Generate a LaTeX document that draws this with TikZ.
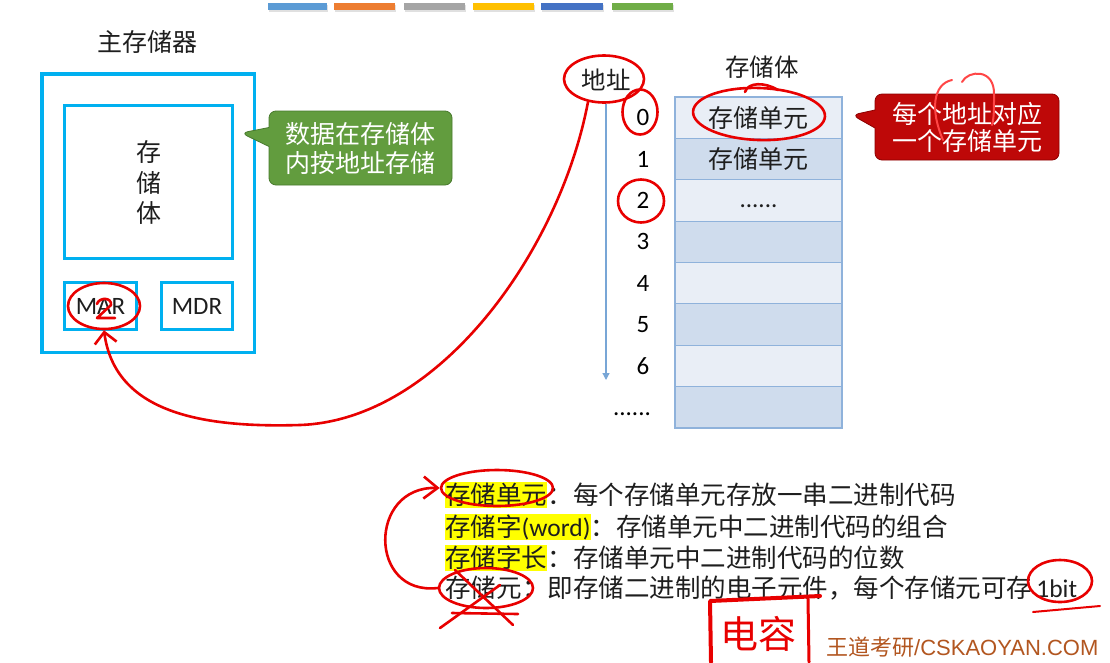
\documentclass[tikz,border=0pt]{standalone}
\usepackage{fontspec}
\setmainfont{Noto Sans CJK SC}
\newfontfamily\lat{Carlito}
\newfontfamily\wmfont{Liberation Sans}
\usetikzlibrary{shapes.geometric,shapes.callouts,arrows.meta,positioning}
\newcommand{\fsz}[1]{\fontsize{#1}{#1}\selectfont}
\definecolor{boxcyan}{RGB}{0,176,240}
\definecolor{txt}{RGB}{30,30,30}
\definecolor{calgreen}{RGB}{98,156,62}
\definecolor{calgreenline}{RGB}{72,122,45}
\definecolor{calred}{RGB}{190,8,8}
\definecolor{calredline}{RGB}{140,0,0}
\definecolor{cellA}{RGB}{233,238,246}
\definecolor{cellB}{RGB}{207,220,237}
\definecolor{cellline}{RGB}{143,178,219}
\definecolor{addrblue}{RGB}{120,166,214}
\definecolor{hlyellow}{RGB}{255,255,0}
\definecolor{inkred}{RGB}{232,0,0}
\definecolor{inkbright}{RGB}{255,70,70}
\definecolor{wmcolor}{RGB}{178,86,32}
\definecolor{barA}{RGB}{91,155,213}
\definecolor{barB}{RGB}{237,125,49}
\definecolor{barC}{RGB}{165,165,165}
\definecolor{barD}{RGB}{255,192,0}
\definecolor{barE}{RGB}{68,114,196}
\definecolor{barF}{RGB}{112,173,71}
\tikzset{
  cyanbox/.style={draw=boxcyan, line width=3.5pt, inner sep=0pt},
  lbl/.style={text=txt, inner sep=0pt, font=\fsz{25}},
  cell/.style={draw=cellline, line width=1.2pt, minimum width=167pt, minimum height=41.375pt, inner sep=0pt},
  num/.style={text=black, inner sep=0pt, font=\lat\fsz{25}},
  bubble/.style={rectangle callout, rounded corners=7pt, text=white, align=center, inner sep=0pt, line width=0.8pt},
  ink/.style={draw=inkred, line width=2.6pt, line cap=round, line join=round},
  inkring/.style={ink, ellipse, inner sep=0pt},
  term/.style={fill=hlyellow, inner xsep=0pt, inner ysep=0.5pt, text height=21.5pt, text depth=3.5pt, text=txt, font=\fsz{25.5}, anchor=west},
  desc/.style={term, fill=none},
}
\begin{document}
\begin{tikzpicture}[x=1pt,y=-1pt]
\useasboundingbox (0,0) rectangle (1110,662);
\fill[white] (0,0) rectangle (1110,662);
% colour bars
\foreach \a/\b/\c in {268/327/barA,334/395/barB,404/465/barC,473/534/barD,541/603/barE,612/673/barF}{
  \fill[black!12] (\a+1,4.5) rectangle (\b+1,11.5);
  \fill[\c] (\a,3) rectangle (\b,10);
}
% main memory
\node[lbl] (title) at (147,42) {主存储器};
\node[cyanbox, minimum width=212.5pt, minimum height=278.5pt] (main) at (148,213) {};
\node[cyanbox, minimum width=168pt, minimum height=153pt] (bank) at (148.5,182) {};
\node[lbl, align=center, font=\fontsize{25}{30.5}\selectfont] (banktxt) at (148.5,182.5) {存\\储\\体};
\node[cyanbox, minimum width=72pt, minimum height=47pt, text=txt, font=\lat\fsz{25}] (mar) at (100.5,306) {MAR};
\node[cyanbox, minimum width=71pt, minimum height=47pt, text=txt, font=\lat\fsz{25}] (mdr) at (197,306) {MDR};
% green callout
\node[bubble, fill=calgreen, draw=calgreenline, minimum width=183pt, minimum height=74pt,
      callout absolute pointer={(241,133)}, callout pointer width=19pt,
      font=\fontsize{25}{29}\selectfont] (gcall) at (360.5,148) {数据在存储体\\内按地址存储};
% memory bank table
\node[lbl, font=\fsz{24.5}] (banklbl) at (762,67) {存储体};
\node[lbl, font=\fsz{24.5}] (addr) at (606,80) {地址};
\foreach \i/\f in {0/cellA,1/cellB,2/cellA,3/cellB,4/cellA,5/cellB,6/cellA,7/cellB}
  \node[cell, fill=\f] (r\i) at (758.5,{97+41.375*(\i+0.5)}) {};
\node[lbl] (cell0) at (r0) {存储单元};
\node[lbl] (cell1) at (r1) {存储单元};
\node[num, anchor=base, text=txt] (cell2) at (758.5,207.5) {......};
\foreach \i in {0,...,6}
  \node[num] (n\i) at (643,{97+41.375*(\i+0.5)}) {\i};
\node[num, anchor=base] (ndots) at (632,415.5) {......};
\coordinate (ax0) at (606,104);
\coordinate (ax1) at (606,380);
\draw[addrblue, line width=1.2pt, -{Triangle[length=7pt,width=7pt]}] (ax0) -- (ax1);
% red callout
\node[bubble, fill=calred, draw=calredline, minimum width=184pt, minimum height=66pt,
      callout absolute pointer={(852,115)}, callout pointer width=18pt,
      font=\fontsize{25}{27}\selectfont] (rcall) at (967,127) {每个地址对应\\一个存储单元};
% definitions
\node[term] (t1) at (445,495) {存储单元};
\node[desc, right=0pt of t1] (d1) {：每个存储单元存放一串二进制代码};
\node[term] (t2) at (445,527) {存储字{\lat (word)}};
\node[desc, right=0pt of t2] (d2) {：存储单元中二进制代码的组合};
\node[term] (t3) at (445,558) {存储字长};
\node[desc, right=0pt of t3] (d3) {：存储单元中二进制代码的位数};
\node[desc] (t4) at (445,588) {存储元};
\node[desc, right=0pt of t4] (d4) {：即存储二进制的电子元件，每个存储元可存\,{\lat 1bit}};
% watermark
\node[text=wmcolor, inner sep=0pt, anchor=west, font=\fsz{22}] (wm) at (826,647) {王道考研{\wmfont /CSKAOYAN.COM}};
% red ink annotations
\node[inkring, minimum width=80pt, minimum height=47pt] (addrc) at (604,79) {};
\node[inkring, minimum width=35pt, minimum height=45pt] (c0) at (640,112) {};
\node[inkring, minimum width=46pt, minimum height=43pt] (c2) at (641,201) {};
\node[inkring, minimum width=132pt, minimum height=52pt, rotate=-2] (cr0) at (759,114) {};
\draw[ink] (745,92) .. controls (748,82) and (765,82) .. (778,90);
\node[inkring, minimum width=72pt, minimum height=46pt] (cmar) at (104,306) {};
\draw[ink] (97,304) .. controls (99,297) and (112,297) .. (111,305) -- (97,318) -- (115,318);
\draw[ink, -{Straight Barb[length=11pt,width=22pt]}] (addrc.235) .. controls (560,250) and (440,420) .. (300,425) .. controls (200,428) and (115,412) .. (cmar.south);
\node[inkring, minimum width=112pt, minimum height=36pt] (ct1) at (497,488) {};
\node[inkring, minimum width=94pt, minimum height=40pt] (ct4) at (486,588) {};
\draw[ink] (455,570) -- (513,625);
\draw[ink] (500,585) -- (440,628);
\draw[ink] (452,613) -- (518,614);
\draw[ink, -{Straight Barb[length=14pt,width=22pt]}] (ct4.west) .. controls (368,596) and (368,486) .. (ct1.west);
\node[inkring, minimum width=64pt, minimum height=42pt] (cbit) at (1060,581) {};
\draw[ink, line width=2pt] (1033,612) -- (1100,606);
\draw[ink, line width=4pt] (711,662) -- (710,601) -- (820,596);
\draw[ink, line width=3pt] (808,599) -- (809,662);
\node[text=inkred, inner sep=0pt, font=\fsz{38}] (dianrong) at (758,634) {电容};
\draw[ink, draw=inkbright, line width=2pt] (943,140) .. controls (930,110) and (933,84) .. (952,80);
\draw[ink, draw=inkbright, line width=2pt] (962,82) .. controls (968,70) and (995,68) .. (994,95) .. controls (994,110) and (994,118) .. (992,125);
\end{tikzpicture}
\end{document}
